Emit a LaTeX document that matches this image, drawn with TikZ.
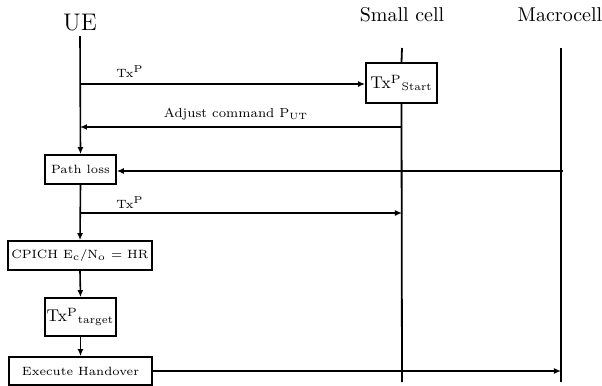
\documentclass[tikz,border=0pt]{standalone}
\usepackage{amsmath}
\usepackage{tikz}
\usetikzlibrary{arrows.meta, positioning}

\begin{document}
\begin{tikzpicture}[x=0.5pt, y=-0.5pt,
  box/.style={draw, line width=0.9pt, inner sep=0pt, align=center},
  msg/.style={-{Latex[length=3.5pt, width=3pt]}, line width=0.8pt},
  life/.style={line width=0.9pt},
  head/.style={font=\fontsize{10}{12}\selectfont},
  small/.style={font=\fontsize{6}{7}\selectfont}]
  \def\ueX{80}\def\scX{402}\def\mcX{561}
  \useasboundingbox (0,0) rectangle (602,386);

  % Entities
  \node[head, font=\fontsize{12}{14}\selectfont] (ue) at (\ueX,23) {UE};
  \node[head] (small) at (\scX,15) {Small cell};
  \node[head] (macro) at (560,15) {Macrocell};
  \coordinate (ueTop) at (\ueX,36);
  \coordinate (scTop) at (\scX,48);
  \coordinate (scBot) at (\scX,382);
  \coordinate (mcTop) at (\mcX,48);
  \coordinate (mcBot) at (\mcX,382);

  % Boxes (sizes in pt = half the pixel size)
  \node[box, minimum width=35.5pt, minimum height=20pt, font=\fontsize{8.5}{10}\selectfont]
    (start) at (401.5,83) {Tx$^{\mathrm{P}}{}_{\text{\fontsize{5.5}{7}\selectfont Start}}$};
  \node[box, minimum width=35.5pt, minimum height=14.5pt, small] (pathloss) at (80.5,169.5) {Path loss};
  \node[box, minimum width=72pt, minimum height=14.5pt, small] (cpich) at (80,255.5)
    {CPICH E$_{\mathrm{c}}$/N$_{\mathrm{o}}$ = HR};
  \node[box, minimum width=35.5pt, minimum height=19pt, font=\fontsize{8.5}{10}\selectfont]
    (target) at (80.5,317) {Tx$^{\mathrm{P}}{}_{\text{\fontsize{5.5}{7}\selectfont target}}$};
  \node[box, minimum width=71.5pt, minimum height=14pt, small] (handover) at (80.5,371) {Execute Handover};

  % Lifelines
  \draw[life] (scTop) -- (start.north);
  \draw[life] (start.south) -- (scBot);
  \draw[life] (mcTop) -- (mcBot);

  % UE flow
  \draw[msg] (ueTop) -- (pathloss.north);
  \draw[msg] (pathloss.south) -- (cpich.north);
  \draw[msg] (cpich.south) -- (target.north);
  \draw[msg] (target.south) -- (handover.north);

  % Messages
  \coordinate (tx1) at (\ueX,84);
  \draw[msg, line width=1.2pt] (tx1) -- (start.west |- tx1);
  \node[small] (txlbl1) at (130,72) {Tx$^{\mathrm{P}}$};
  \coordinate (adjS) at (\scX,127);
  \coordinate (adjE) at (\ueX,127);
  \draw[msg] (adjS) -- (adjE);
  \node[font=\fontsize{6.5}{8}\selectfont] (adjlbl) at (236,114) {Adjust command P$_{\text{UT}}$};
  \coordinate (plS) at (563,171);
  \draw[msg, line width=0.6pt] (plS) -- (pathloss.east |- plS);
  \coordinate (tx2) at (\ueX,213);
  \coordinate (tx2E) at (\scX,213);
  \draw[msg] (tx2) -- (tx2E);
  \node[small] (txlbl2) at (130,203) {Tx$^{\mathrm{P}}$};
  \draw[msg] (handover.east) -- (handover.east -| mcBot);
\end{tikzpicture}
\end{document}
